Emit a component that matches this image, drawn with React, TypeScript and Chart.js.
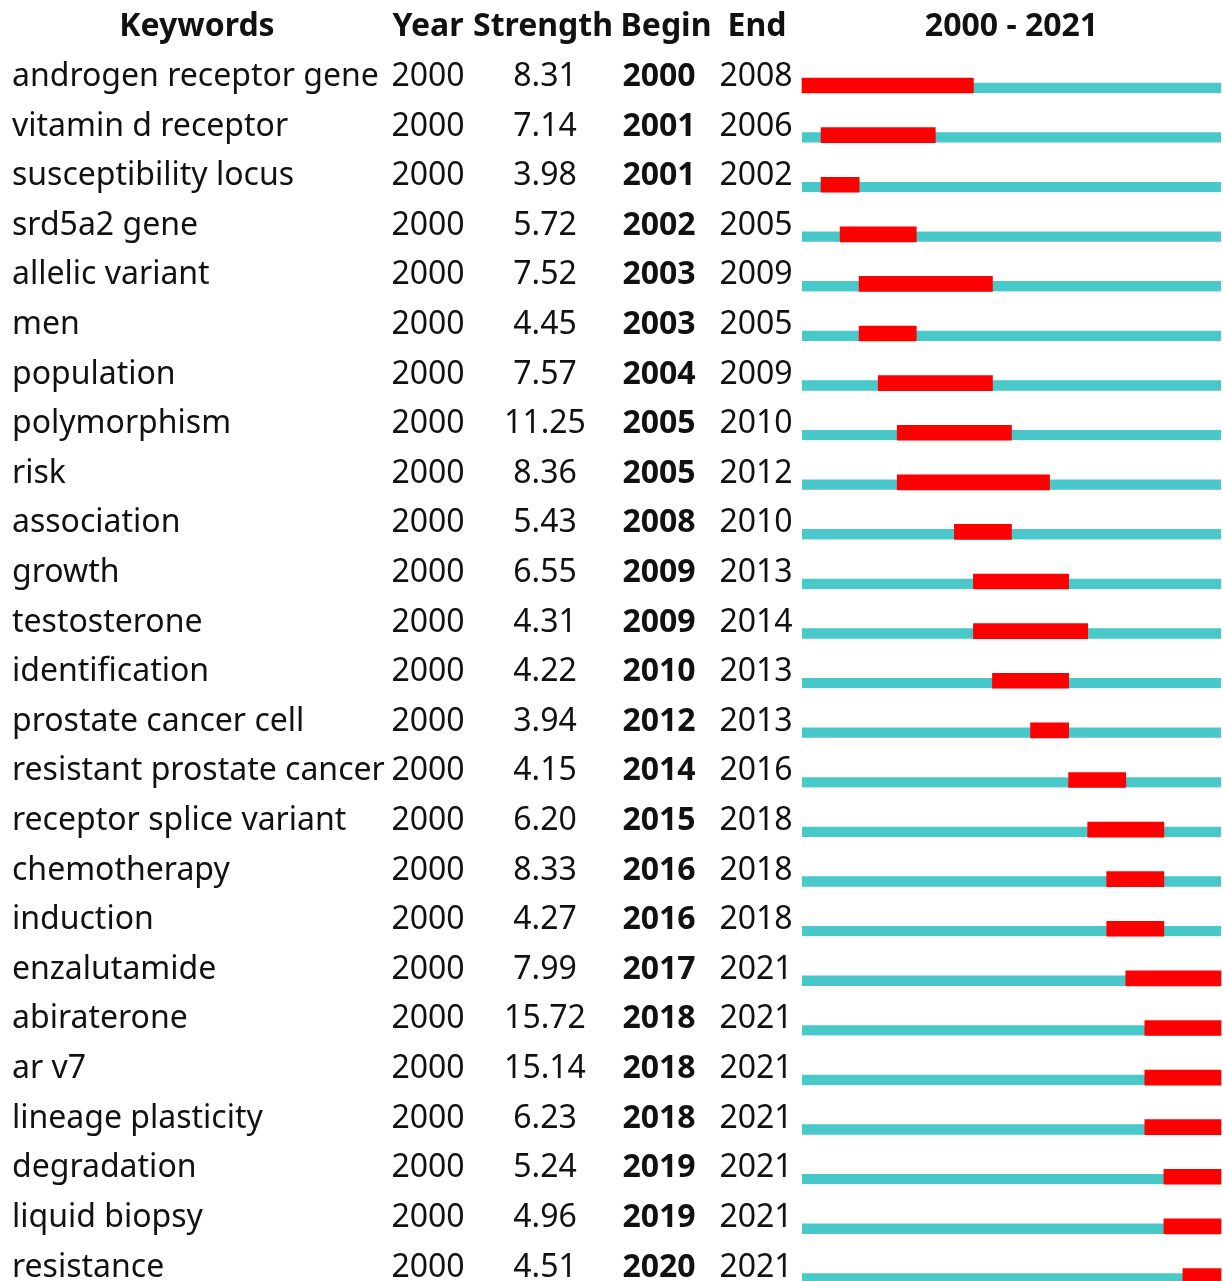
import React, { useEffect, useRef } from "react";
import { Chart, registerables } from "chart.js";

Chart.register(...registerables);

const keywords = [
  "androgen receptor gene", "vitamin d receptor", "susceptibility locus", "srd5a2 gene",
  "allelic variant", "men", "population", "polymorphism", "risk", "association", "growth",
  "testosterone", "identification", "prostate cancer cell", "resistant prostate cancer",
  "receptor splice variant", "chemotherapy", "induction", "enzalutamide", "abiraterone",
  "ar v7", "lineage plasticity", "degradation", "liquid biopsy", "resistance",
];
const years = [2000, 2000, 2000, 2000, 2000, 2000, 2000, 2000, 2000, 2000, 2000, 2000, 2000,
  2000, 2000, 2000, 2000, 2000, 2000, 2000, 2000, 2000, 2000, 2000, 2000];
const strengths = [8.31, 7.14, 3.98, 5.72, 7.52, 4.45, 7.57, 11.25, 8.36, 5.43, 6.55, 4.31, 4.22,
  3.94, 4.15, 6.2, 8.33, 4.27, 7.99, 15.72, 15.14, 6.23, 5.24, 4.96, 4.51];
const begins = [2000, 2001, 2001, 2002, 2003, 2003, 2004, 2005, 2005, 2008, 2009, 2009, 2010,
  2012, 2014, 2015, 2016, 2016, 2017, 2018, 2018, 2018, 2019, 2019, 2020];
const ends = [2008, 2006, 2002, 2005, 2009, 2005, 2009, 2010, 2012, 2010, 2013, 2014, 2013,
  2013, 2016, 2018, 2018, 2018, 2021, 2021, 2021, 2021, 2021, 2021, 2021];
const headers = ["Keywords", "Year", "Strength", "Begin", "End"];
const rangeStart = 2000;
const rangeEnd = 2021;

const FONT = '"Noto Sans", sans-serif';
const SIZE = 32;

const textPlugin = {
  id: "burstText",
  afterDraw(chart: any) {
    const ctx = chart.ctx;
    const ys = chart.scales.y;
    const xs = chart.scales.x;
    ctx.save();
    ctx.fillStyle = "#111";
    ctx.textBaseline = "alphabetic";
    ctx.font = `bold ${SIZE}px ${FONT}`;
    ctx.textAlign = "center";
    const headX = [197, 428, 543, 666, 757];
    headers.forEach((h, i) => ctx.fillText(h, headX[i], 36));
    ctx.fillText(`${rangeStart} - ${rangeEnd}`, (xs.left + xs.right) / 2, 36);
    keywords.forEach((k, i) => {
      const y = ys.getPixelForValue(i) + 0.5;
      ctx.font = `${SIZE}px ${FONT}`;
      ctx.textAlign = "left";
      ctx.fillText(k, 12, y);
      ctx.textAlign = "center";
      ctx.fillText(String(years[i]), 428, y);
      ctx.fillText(strengths[i].toFixed(2), 545, y);
      ctx.fillText(String(ends[i]), 756, y);
      ctx.font = `bold ${SIZE}px ${FONT}`;
      ctx.fillText(String(begins[i]), 659, y);
    });
    ctx.restore();
  },
};

export default function App() {
  const ref = useRef<HTMLCanvasElement>(null);
  useEffect(() => {
    document.body.style.margin = "0";
    document.body.style.overflow = "hidden";
    const chart = new Chart(ref.current!, {
      type: "bar",
      data: {
        labels: keywords,
        datasets: [
          {
            label: "burst",
            data: keywords.map((_, i) => [begins[i], ends[i] + 1]) as any,
            backgroundColor: "#ff0000",
            borderWidth: 0,
            barThickness: 15,
            grouped: false,
            clip: false as any,
            order: 0,
          },
          {
            label: "span",
            data: keywords.map(() => [rangeStart, rangeEnd + 1]) as any,
            backgroundColor: "#48c8c8",
            borderColor: "rgba(0,0,0,0)",
            borderWidth: { top: 5, left: 0, right: 0, bottom: 0 } as any,
            borderSkipped: false,
            barThickness: 15,
            grouped: false,
            clip: false as any,
            order: 1,
          },
        ],
      },
      options: {
        indexAxis: "y",
        responsive: false,
        animation: false,
        layout: { padding: { left: 802, right: 2, top: 85.5, bottom: 5 } },
        plugins: { legend: { display: false }, tooltip: { enabled: false } },
        scales: {
          x: {
            type: "linear",
            min: rangeStart,
            max: rangeEnd + 1,
            z: 1,
            border: { display: false },
            grid: { color: "rgba(255,255,255,0.35)", drawTicks: false, lineWidth: 1 },
            ticks: { display: false, stepSize: 1 },
          },
          y: { display: false, offset: false },
        },
      },
      plugins: [textPlugin],
    });
    return () => chart.destroy();
  }, []);
  return (
    <canvas
      ref={ref}
      width={1223}
      height={1281}
      style={{ position: "absolute", left: 0, top: 0, width: 1223, height: 1281 }}
    />
  );
}
